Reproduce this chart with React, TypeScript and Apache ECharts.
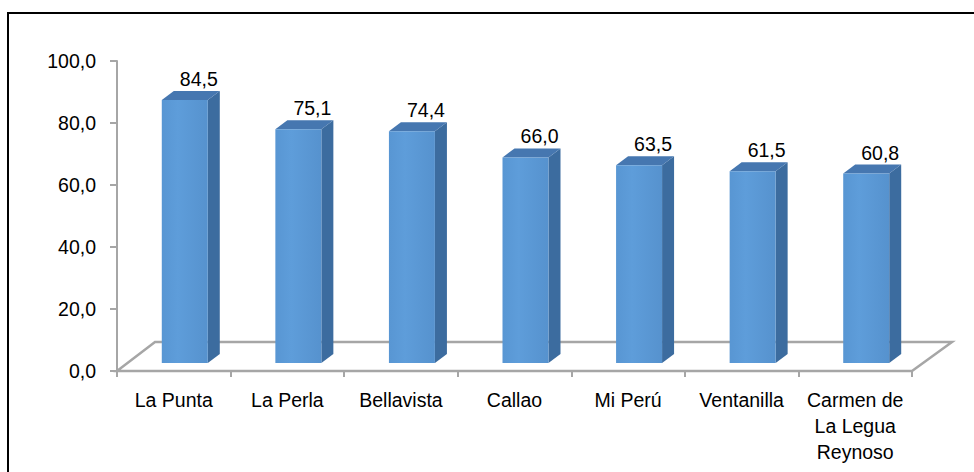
import React, { useEffect, useRef } from "react";
import * as echarts from "echarts";

const categories = [
  "La Punta",
  "La Perla",
  "Bellavista",
  "Callao",
  "Mi Perú",
  "Ventanilla",
  "Carmen de\nLa Legua\nReynoso",
];
const values = [84.5, 75.1, 74.4, 66.0, 63.5, 61.5, 60.8];
const yTicks = [0, 20, 40, 60, 80, 100];

const FONT = "'Liberation Sans', Arial, sans-serif";
const FS = 19.5;
const fmt = (v: number) => v.toFixed(1).replace(".", ",");

export default function App() {
  const ref = useRef<HTMLDivElement>(null);
  useEffect(() => {
    if (!ref.current) return;
    const chart = echarts.init(ref.current, undefined, { renderer: "svg" });
    const GRID = { left: 117, top: 61, width: 795, height: 310 };
    const FLOOR_DX = 38;
    const FLOOR_DY = -29;
    const BAR_OFF_X = 11;
    const BAR_OFF_Y = -8;
    const BAR_HALF = 23;
    const DEPTH_X = 12;
    const DEPTH_Y = -9;

    chart.setOption({
      animation: false,
      backgroundColor: "#ffffff",
      graphic: [
        {
          type: "rect",
          shape: { x: 8, y: 13, width: 1000, height: 500 },
          style: { fill: "none", stroke: "#000000", lineWidth: 2 },
          z: 0,
        },
      ],
      grid: GRID,
      xAxis: {
        type: "category",
        data: categories,
        boundaryGap: true,
        axisLine: { show: true, lineStyle: { color: "#A6A6A6", width: 2 } },
        axisTick: { show: true, length: 6, lineStyle: { color: "#A6A6A6", width: 2 } },
        axisLabel: {
          color: "#000000",
          fontFamily: FONT,
          fontSize: FS,
          lineHeight: 26,
          margin: 16,
          interval: 0,
        },
        splitLine: { show: false },
      },
      yAxis: {
        type: "value",
        min: yTicks[0],
        max: yTicks[yTicks.length - 1],
        interval: 20,
        axisLine: { show: true, lineStyle: { color: "#A6A6A6", width: 2 } },
        axisTick: { show: true, length: 7, lineStyle: { color: "#A6A6A6", width: 2 } },
        axisLabel: {
          color: "#000000",
          fontFamily: FONT,
          fontSize: FS,
          margin: 21,
          formatter: (v: number) => fmt(v),
        },
        splitLine: { show: false },
      },
      series: [
        {
          type: "custom",
          z: 1,
          data: [0],
          renderItem: (params: any) => {
            const cs = params.coordSys;
            const x0 = cs.x;
            const y0 = cs.y + cs.height;
            const x1 = cs.x + cs.width;
            return {
              type: "polygon",
              shape: {
                points: [
                  [x0, y0],
                  [x1, y0],
                  [x1 + FLOOR_DX + 2, y0 + FLOOR_DY],
                  [x0 + FLOOR_DX, y0 + FLOOR_DY],
                ],
              },
              style: { fill: "#ffffff", stroke: "#A6A6A6", lineWidth: 2.5 },
            };
          },
        },
        {
          type: "custom",
          z: 3,
          data: values.map((v, i) => [i, v]),
          renderItem: (params: any, api: any) => {
            const i = api.value(0);
            const v = api.value(1);
            const base = api.coord([i, 0]);
            const top = api.coord([i, v]);
            const cx = base[0] + BAR_OFF_X;
            const xl = cx - BAR_HALF;
            const xr = cx + BAR_HALF;
            const yb = base[1] + BAR_OFF_Y;
            const yt = top[1] + BAR_OFF_Y - 1;
            return {
              type: "group",
              children: [
                {
                  type: "polygon",
                  shape: {
                    points: [
                      [xr, yt],
                      [xr + DEPTH_X, yt + DEPTH_Y],
                      [xr + DEPTH_X, yb + DEPTH_Y],
                      [xr, yb],
                    ],
                  },
                  style: { fill: "#3C6C9F" },
                },
                {
                  type: "polygon",
                  shape: {
                    points: [
                      [xl, yt],
                      [xl + DEPTH_X, yt + DEPTH_Y],
                      [xr + DEPTH_X, yt + DEPTH_Y],
                      [xr, yt],
                    ],
                  },
                  style: { fill: "#4677B0" },
                },
                {
                  type: "rect",
                  shape: { x: xl, y: yt, width: xr - xl, height: yb - yt },
                  style: {
                    fill: new echarts.graphic.LinearGradient(0, 0, 1, 0, [
                      { offset: 0, color: "#5896D3" },
                      { offset: 0.35, color: "#5E9DDA" },
                      { offset: 1, color: "#5692CE" },
                    ]),
                  },
                },
                {
                  type: "text",
                  x: (xl + xr) / 2 + DEPTH_X + 2,
                  y: yt + DEPTH_Y - 2,
                  style: {
                    text: fmt(v),
                    fill: "#000000",
                    font: `${FS}px ${FONT}`,
                    textAlign: "center",
                    textVerticalAlign: "bottom",
                  },
                },
              ],
            };
          },
        },
      ],
    });
    return () => chart.dispose();
  }, []);
  return (
    <div
      ref={ref}
      style={{ position: "fixed", left: 0, top: 0, width: 974, height: 472 }}
    />
  );
}
